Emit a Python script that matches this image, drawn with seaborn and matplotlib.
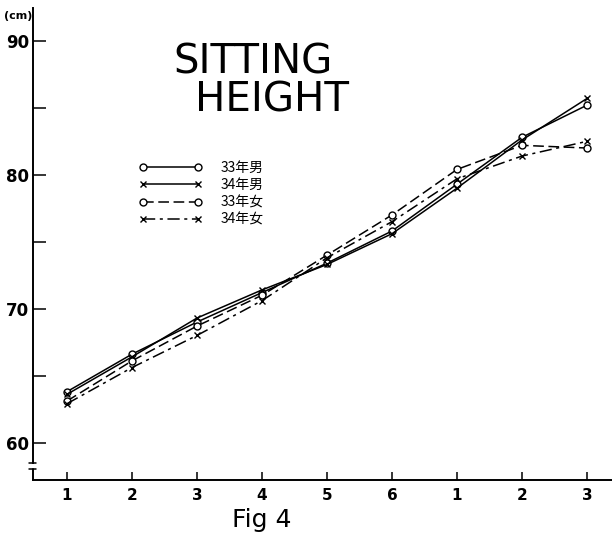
"""Sitting height growth chart (Fig 4)."""
import matplotlib
matplotlib.use("Agg")
import matplotlib.pyplot as plt
import seaborn as sns
import numpy as np
import pandas as pd

# month positions along the x axis and their printed labels
positions = [1, 2, 3, 4, 5, 6, 7, 8, 9]
month_labels = ["1", "2", "3", "4", "5", "6", "1", "2", "3"]

boys_33 = [63.8, 66.6, 69.0, 71.2, 73.4, 75.8, 79.3, 82.8, 85.2]
boys_34 = [63.6, 66.4, 69.3, 71.4, 73.3, 75.6, 79.0, 82.6, 85.7]
girls_33 = [63.1, 66.1, 68.7, 71.0, 74.0, 77.0, 80.4, 82.2, 82.0]
girls_34 = [62.9, 65.6, 68.0, 70.6, 73.8, 76.5, 79.7, 81.4, 82.5]

series_names = ["33年男", "34年男", "33年女", "34年女"]

sns.set_style("white")
plt.rcParams["font.family"] = ["DejaVu Sans", "Noto Sans CJK JP"]
plt.rcParams["text.color"] = "black"
plt.rcParams["xtick.color"] = "black"
plt.rcParams["ytick.color"] = "black"

fig = plt.figure(figsize=(6.12, 5.35), dpi=100)
W, H = 612, 535
ax = fig.add_axes([33 / W, (H - 480) / H, (W - 33) / W, (480 - 8) / H])

styles = [
    dict(marker="o", linestyle="-", mfc="white"),
    dict(marker="x", linestyle="-"),
    dict(marker="o", linestyle=(0, (7, 3)), mfc="white"),
    dict(marker="x", linestyle=(0, (8, 3, 2, 3))),
]
for name, vals, st in zip(series_names, [boys_33, boys_34, girls_33, girls_34], styles):
    df = pd.DataFrame({"pos": positions, "cm": vals})
    sns.lineplot(data=df, x="pos", y="cm", ax=ax, color="black", lw=1.1,
                 markersize=5, mec="black", mew=1.0, label=name, **st)

ax.set_xlim(0.477, 9.385)
ax.set_ylim(57.2, 92.46)
ax.set_xlabel("")
ax.set_ylabel("")

ax.set_xticks(positions)
ax.set_xticklabels(month_labels, fontsize=11, fontweight="bold")
ax.set_yticks([60, 70, 80, 90])
ax.set_yticklabels(["60", "70", "80", "90"], fontsize=12, fontweight="bold")
ax.set_yticks([65, 75, 85], minor=True)
ax.tick_params(axis="y", which="both", direction="in", length=9, width=1.1,
               left=True, pad=3)
ax.tick_params(axis="x", direction="in", length=6, width=1.1, bottom=True, pad=6)

for s in ["top", "right"]:
    ax.spines[s].set_visible(False)
for s in ["left", "bottom"]:
    ax.spines[s].set_color("black")
    ax.spines[s].set_linewidth(1.4)
ax.spines["left"].set_bounds(58.5, 92.46)

# axis break marks
ax.plot([0.42, 0.53], [58.5, 58.5], color="black", lw=1.1, clip_on=False)
ax.plot([0.42, 0.53], [58.0, 58.0], color="black", lw=1.1, clip_on=False)
ax.plot([0.477, 0.477], [57.2, 58.0], color="black", lw=1.4, clip_on=False)

fig.text(32 / W, 1 - 16 / H, "(cm)", fontsize=8, fontweight="bold",
         ha="right", va="center")

fig.text(253 / W, 1 - 62 / H, "SITTING", fontsize=29, ha="center", va="center")
fig.text(272 / W, 1 - 101 / H, "HEIGHT", fontsize=29, ha="center", va="center")

ax.legend(loc="upper left", bbox_to_anchor=(126 / W, 1 - 148 / H),
          bbox_transform=fig.transFigure, frameon=False, numpoints=2,
          handlelength=4.6, labelspacing=0.25, handletextpad=1.3,
          prop={"family": ["Noto Sans CJK JP"], "size": 10})

fig.text(262 / W, 1 - 520 / H, "Fig 4", fontsize=18, ha="center", va="center")

fig.savefig("out.png", dpi=100, facecolor="white")
plt.close(fig)
